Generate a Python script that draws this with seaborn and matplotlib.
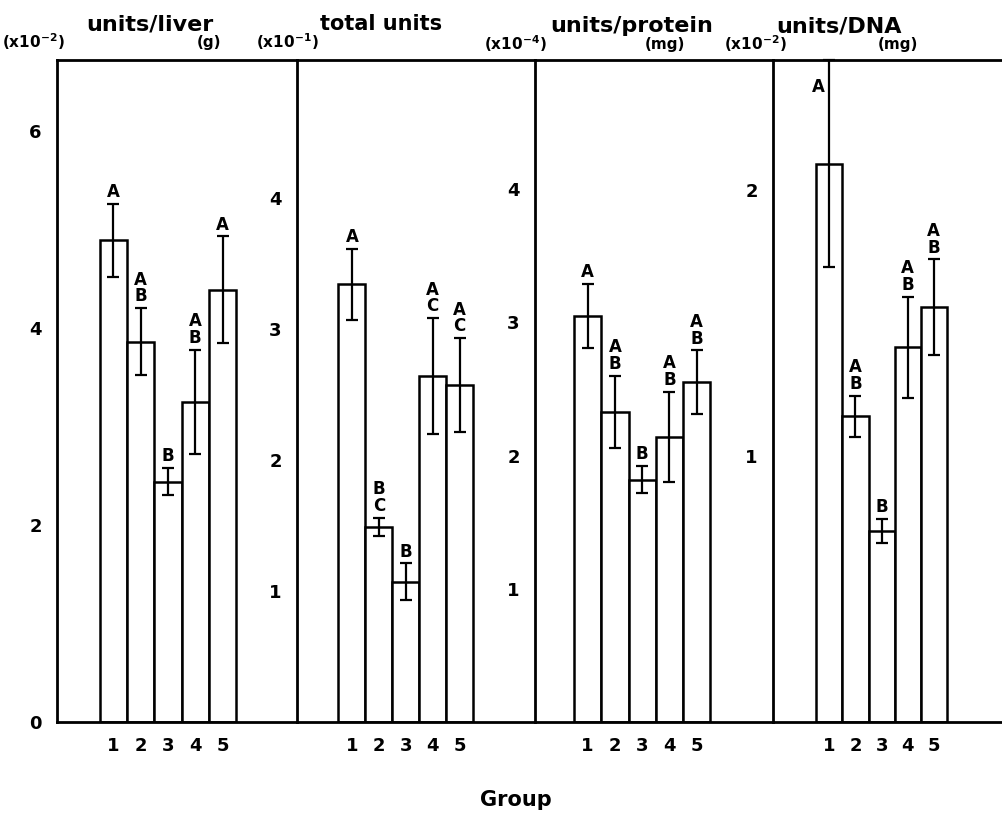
import numpy as np
import pandas as pd
import matplotlib
matplotlib.use("Agg")
import matplotlib.pyplot as plt
import seaborn as sns

# data (means and standard errors per group)
groups = ["1", "2", "3", "4", "5"]

liver_mean = [4.89, 3.86, 2.44, 3.25, 4.39]
liver_se = [0.37, 0.34, 0.14, 0.53, 0.54]
liver_letters = ["A", "A\nB", "B", "A\nB", "A"]

total_mean = [3.34, 1.49, 1.07, 2.64, 2.57]
total_se = [0.27, 0.07, 0.14, 0.44, 0.36]
total_letters = ["A", "B\nC", "B", "A\nC", "A\nC"]

protein_mean = [3.05, 2.33, 1.82, 2.14, 2.55]
protein_se = [0.24, 0.27, 0.10, 0.34, 0.24]
protein_letters = ["A", "A\nB", "B", "A\nB", "A\nB"]

dna_mean = [2.10, 1.15, 0.72, 1.41, 1.56]
dna_se = [0.39, 0.077, 0.045, 0.19, 0.18]
dna_letters = ["A", "A\nB", "B", "A\nB", "A\nB"]

liver_ticks = [0, 2, 4, 6]
liver_ticklabels = ["0", "2", "4", "6"]
total_ticks = [1, 2, 3, 4]
total_ticklabels = ["1", "2", "3", "4"]
protein_ticks = [1, 2, 3, 4]
protein_ticklabels = ["1", "2", "3", "4"]
dna_ticks = [0.5, 1, 1.5, 2]
dna_ticklabels = ["", "1", "", "2"]

sns.set_style("white")
plt.rcParams["font.family"] = ["DejaVu Sans"]
plt.rcParams["font.weight"] = "bold"
plt.rcParams["mathtext.default"] = "bf"
plt.rcParams["text.color"] = "black"
plt.rcParams["xtick.color"] = "black"
plt.rcParams["ytick.color"] = "black"

W, H = 1003, 830
fig = plt.figure(figsize=(W / 100, H / 100), dpi=100)

# panel: data + layout (pixel box: left, right; top 60, bottom 722 for all)
panels = [
    dict(mean=liver_mean, se=liver_se, letters=liver_letters, ticks=liver_ticks,
         ticklabels=liver_ticklabels, ytop=6.72, box=(57, 297), xlim=(-2.07, 6.73)),
    dict(mean=total_mean, se=total_se, letters=total_letters, ticks=total_ticks,
         ticklabels=total_ticklabels, ytop=5.05, box=(297, 535), xlim=(-2.04, 6.80)),
    dict(mean=protein_mean, se=protein_se, letters=protein_letters, ticks=protein_ticks,
         ticklabels=protein_ticklabels, ytop=4.97, box=(535, 773), xlim=(-1.93, 6.80)),
    dict(mean=dna_mean, se=dna_se, letters=dna_letters, ticks=dna_ticks,
         ticklabels=dna_ticklabels, ytop=2.49, box=(773, 1003), xlim=(-2.16, 6.65)),
]

top_px, bottom_px = 60, 722
for i, p in enumerate(panels):
    l, r = p["box"]
    ax = fig.add_axes([l / W, 1 - bottom_px / H, (r - l) / W, (bottom_px - top_px) / H])
    df = pd.DataFrame({"group": groups, "value": p["mean"]})
    sns.barplot(data=df, x="group", y="value", ax=ax, color="white", saturation=1,
                edgecolor="black", linewidth=1.8, width=1.0, errorbar=None)
    xs = np.arange(len(groups))
    ax.errorbar(xs, p["mean"], yerr=p["se"], fmt="none", ecolor="black",
                elinewidth=1.6, capsize=4, capthick=1.6, clip_on=False, zorder=5)
    for x, m, s, lab in zip(xs, p["mean"], p["se"], p["letters"]):
        if m + s >= p["ytop"] * 0.99:
            ax.text(x - 0.44, p["ytop"] - 0.1, lab, ha="center", va="center",
                    fontsize=12, fontweight="bold", linespacing=0.9)
        else:
            ax.annotate(lab, (x, m + s), xytext=(0, 2), textcoords="offset points",
                        ha="center", va="bottom", fontsize=12, fontweight="bold",
                        linespacing=0.9)
    ax.set_xlim(*p["xlim"])
    ax.set_ylim(0, p["ytop"])
    ax.set_yticks(p["ticks"])
    ax.set_yticklabels(p["ticklabels"])
    ax.set_xticks(xs)
    ax.set_xticklabels(groups)
    ax.tick_params(axis="y", direction="in", length=5, width=1.5, pad=11, labelsize=13)
    ax.tick_params(axis="x", length=0, pad=11, labelsize=13)
    for lbl in ax.get_xticklabels() + ax.get_yticklabels():
        lbl.set_fontweight("bold")
    ax.set_xlabel("")
    ax.set_ylabel("")
    for side in ["left", "top", "bottom"]:
        ax.spines[side].set_visible(True)
        ax.spines[side].set_linewidth(2.0)
        ax.spines[side].set_color("black")
    ax.spines["right"].set_visible(False)
    ax.patch.set_alpha(0)


def ftext(x, y, s, size, ha="left"):
    fig.text(x / W, 1 - y / H, s, fontsize=size, fontweight="bold", ha=ha, va="center")


ftext(86, 24, "units/liver", 16)
ftext(2, 42, r"(x10$^{-2}$)", 11)
ftext(197, 42, "(g)", 11)
ftext(320, 24, "total units", 15)
ftext(256, 42, r"(x10$^{-1}$)", 11)
ftext(550, 26, "units/protein", 16)
ftext(484, 44, r"(x10$^{-4}$)", 11)
ftext(645, 44, "(mg)", 11)
ftext(776, 26, "units/DNA", 16)
ftext(724, 44, r"(x10$^{-2}$)", 11)
ftext(878, 44, "(mg)", 11)
ftext(516, 800, "Group", 15, ha="center")

fig.savefig("out.png", dpi=100)
